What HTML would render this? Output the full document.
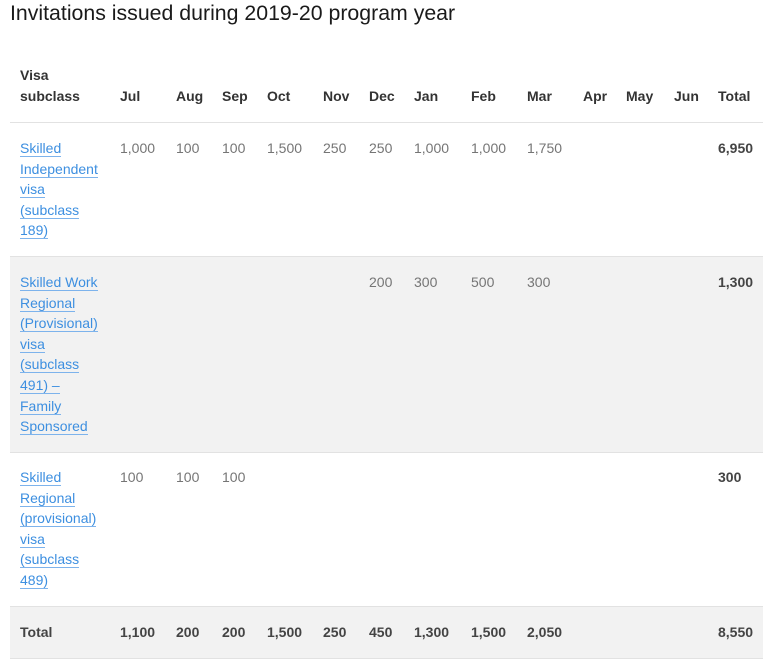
<!DOCTYPE html>
<html><head><meta charset="utf-8">
<style>
body{margin:0;width:768px;height:664px;background:#fff;position:relative;overflow:hidden;font-family:"Liberation Sans",sans-serif;}
.t{position:absolute;left:10px;top:1px;font-size:21.3px;color:#1a1a1a;white-space:nowrap;}
.bg{position:absolute;left:10px;width:753px;background:#f2f2f2;}
.ln{position:absolute;left:10px;width:753px;height:1px;background:#e2e2e2;}
.c{position:absolute;font-size:14px;line-height:20.6px;white-space:nowrap;color:#757575;transform:translateY(-10px);}
.h{font-weight:bold;color:#333;}
.b{font-weight:bold;color:#444;}
a{color:#3d8fe0;text-decoration:none;border-bottom:1.5px solid #7db3ec;}
</style></head><body>
<div class="t">Invitations issued during 2019-20 program year</div>
<div class="bg" style="top:257px;height:195px"></div>
<div class="bg" style="top:607px;height:51px"></div>
<div class="ln" style="top:122px"></div>
<div class="ln" style="top:256px"></div>
<div class="ln" style="top:452px"></div>
<div class="ln" style="top:606px"></div>
<div class="ln" style="top:658px"></div>
<script>
const months=["Jul","Aug","Sep","Oct","Nov","Dec","Jan","Feb","Mar","Apr","May","Jun"];
const colX=[120,176,222,267,323,369,414,471,527,583,626,674];
const s189=["1,000","100","100","1,500","250","250","1,000","1,000","1,750","","",""];
const s491=["","","","","","200","300","500","300","","",""];
const s489=["100","100","100","","","","","","","","",""];
const totals=["1,100","200","200","1,500","250","450","1,300","1,500","2,050","","",""];
const rowTotals=["6,950","1,300","300","8,550"];
const rowNames=[["Skilled","Independent","visa","(subclass","189)"],["Skilled Work","Regional","(Provisional)","visa","(subclass","491) –","Family","Sponsored"],["Skilled","Regional","(provisional)","visa","(subclass","489)"]];
const rowY=[148,282,477];
function cell(x,y,html,cls,name){const d=document.createElement('div');d.className='c '+(cls||'');d.style.left=x+'px';d.style.top=y+'px';d.innerHTML=html;


document.body.appendChild(d);return d;}
cell(20,75,'Visa<br>subclass','h','header-visa-subclass');
months.forEach((m,i)=>cell(colX[i],96,m,'h','header-'+m.toLowerCase()));
cell(718,96,'Total','h','header-total');
const series=[s189,s491,s489];
series.forEach((s,r)=>{
 const d=cell(20,rowY[r],rowNames[r].map(w=>'<a>'+w+'</a>').join('<br>'),'','visa-name-'+r);
 d.querySelectorAll('a').forEach(a=>{});
 s.forEach((v,i)=>{if(v)cell(colX[i],rowY[r],v,'','value-'+r+'-'+months[i].toLowerCase());});
 cell(718,rowY[r],rowTotals[r],'b','row-total-'+r);
});
cell(20,632,'Total','b','total-label');
totals.forEach((v,i)=>{if(v)cell(colX[i],632,v,'b','total-'+months[i].toLowerCase());});
cell(718,632,rowTotals[3],'b','grand-total');
</script>
</body></html>
